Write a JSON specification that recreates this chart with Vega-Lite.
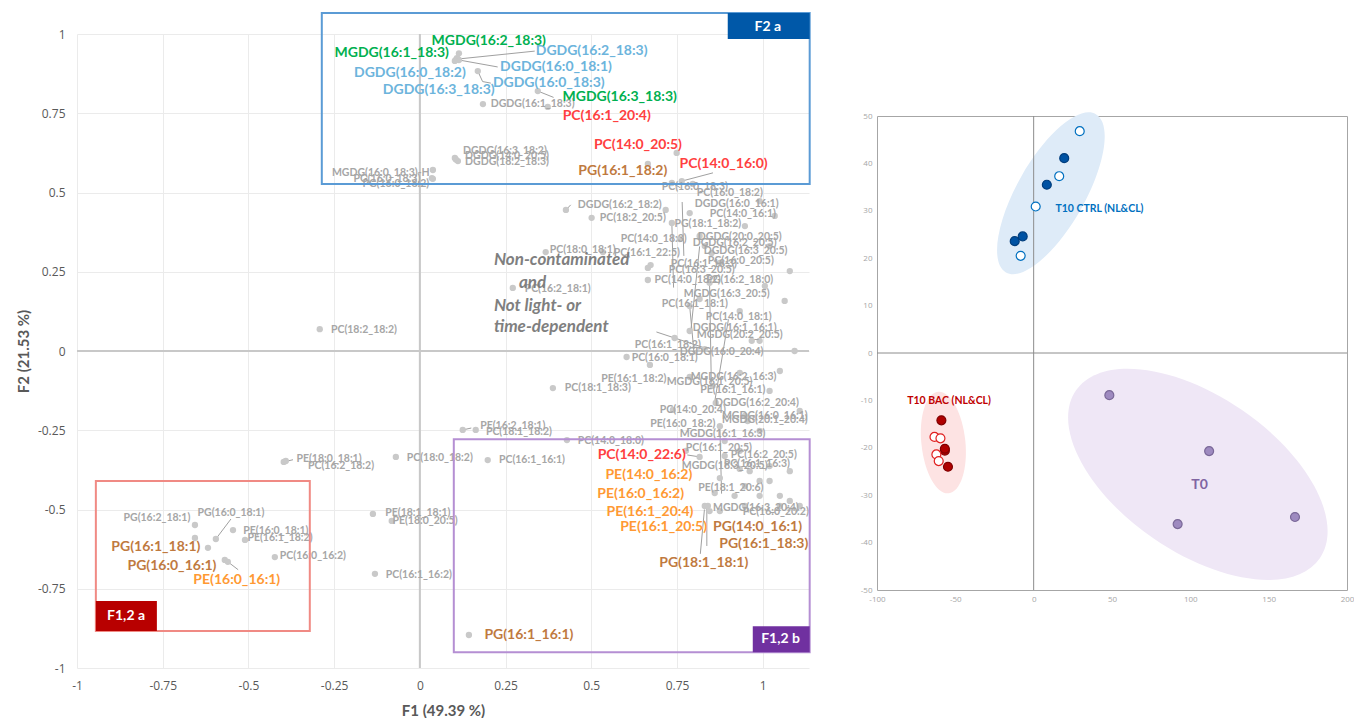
{
  "$schema": "https://vega.github.io/schema/vega-lite/v6.json",
  "padding": {"left": 16, "top": 12, "right": 0, "bottom": 0},
  "background": "white",
  "spacing": 48,
  "config": {"font": "Lato", "view": {"stroke": null}},
  "resolve": {"scale": {"color": "independent", "fill": "independent", "stroke": "independent"}},
  "datasets": {
    "loads": [
      {"x": 0.108, "y": 0.924, "t": "MGDG(16:1_18:3)", "lx": -0.082, "ly": 0.940, "g": "MGDG"},
      {"x": 0.114, "y": 0.939, "t": "MGDG(16:2_18:3)", "lx": 0.201, "ly": 0.978, "g": "MGDG"},
      {"x": 0.111, "y": 0.921, "t": "DGDG(16:2_18:3)", "lx": 0.501, "ly": 0.946, "g": "DGDG"},
      {"x": 0.114, "y": 0.918, "t": "DGDG(16:0_18:1)", "lx": 0.397, "ly": 0.896, "g": "DGDG"},
      {"x": 0.105, "y": 0.918, "t": "DGDG(16:0_18:2)", "lx": -0.029, "ly": 0.877, "g": "DGDG"},
      {"x": 0.169, "y": 0.883, "t": "DGDG(16:0_18:3)", "lx": 0.376, "ly": 0.845, "g": "DGDG"},
      {"x": 0.102, "y": 0.915, "t": "DGDG(16:3_18:3)", "lx": 0.055, "ly": 0.823, "g": "DGDG"},
      {"x": 0.344, "y": 0.820, "t": "MGDG(16:3_18:3)", "lx": 0.583, "ly": 0.801, "g": "MGDG"},
      {"x": 0.184, "y": 0.779, "t": "DGDG(16:1_18:3)", "lx": 0.329, "ly": 0.779, "g": "gray"},
      {"x": 0.373, "y": 0.770, "t": "PC(16:1_20:4)", "lx": 0.545, "ly": 0.741, "g": "PC"},
      {"x": 0.102, "y": 0.609, "t": "DGDG(16:3_18:2)", "lx": 0.248, "ly": 0.631, "g": "gray"},
      {"x": 0.111, "y": 0.599, "t": "DGDG(14:0_20:5)", "lx": 0.254, "ly": 0.615, "g": "gray"},
      {"x": 0.105, "y": 0.604, "t": "DGDG(18:2_18:3)", "lx": 0.254, "ly": 0.596, "g": "gray"},
      {"x": 0.038, "y": 0.571, "t": "MGDG(16:0_18:3)-H", "lx": -0.114, "ly": 0.562, "g": "gray"},
      {"x": 0.038, "y": 0.543, "t": "PG(16:0_18:2)", "lx": -0.070, "ly": 0.527, "g": "gray"},
      {"x": 0.035, "y": 0.545, "t": "PG(16:0_18:3)", "lx": -0.096, "ly": 0.543, "g": "gray"},
      {"x": 0.749, "y": 0.625, "t": "PC(14:0_20:5)", "lx": 0.636, "ly": 0.650, "g": "PC"},
      {"x": 0.665, "y": 0.590, "t": "PG(16:1_18:2)", "lx": 0.592, "ly": 0.568, "g": "PG"},
      {"x": 0.764, "y": 0.536, "t": "PC(14:0_16:0)", "lx": 0.886, "ly": 0.590, "g": "PC"},
      {"x": 0.735, "y": 0.530, "t": "PC(16:0_18:3)", "lx": 0.802, "ly": 0.517, "g": "gray"},
      {"x": 0.796, "y": 0.527, "t": "PC(16:0_18:2)", "lx": 0.904, "ly": 0.498, "g": "gray"},
      {"x": 0.426, "y": 0.445, "t": "DGDG(16:2_18:2)", "lx": 0.583, "ly": 0.461, "g": "gray"},
      {"x": 0.501, "y": 0.420, "t": "PC(18:2_20:5)", "lx": 0.621, "ly": 0.420, "g": "gray"},
      {"x": 0.717, "y": 0.445, "t": "DGDG(16:0_16:1)", "lx": 0.924, "ly": 0.464, "g": "gray"},
      {"x": 0.787, "y": 0.435, "t": "PC(14:0_16:1)", "lx": 0.942, "ly": 0.432, "g": "gray"},
      {"x": 0.735, "y": 0.404, "t": "PG(18:1_18:2)", "lx": 0.840, "ly": 0.401, "g": "gray"},
      {"x": 0.758, "y": 0.353, "t": "PC(14:0_18:3)", "lx": 0.682, "ly": 0.353, "g": "gray"},
      {"x": 0.816, "y": 0.363, "t": "DGDG(20:0_20:5)", "lx": 0.933, "ly": 0.360, "g": "gray"},
      {"x": 0.831, "y": 0.331, "t": "DGDG(16:2_20:5)", "lx": 0.918, "ly": 0.341, "g": "gray"},
      {"x": 0.851, "y": 0.309, "t": "DGDG(16:3_20:5)", "lx": 0.950, "ly": 0.315, "g": "gray"},
      {"x": 0.367, "y": 0.312, "t": "PC(18:0_18:1)", "lx": 0.475, "ly": 0.319, "g": "gray"},
      {"x": 0.534, "y": 0.312, "t": "PC(16:1_22:5)", "lx": 0.662, "ly": 0.309, "g": "gray"},
      {"x": 0.875, "y": 0.278, "t": "PC(16:0_20:5)", "lx": 0.936, "ly": 0.284, "g": "gray"},
      {"x": 0.673, "y": 0.271, "t": "PC(16:1_18:3)", "lx": 0.828, "ly": 0.274, "g": "gray"},
      {"x": 0.665, "y": 0.262, "t": "PC(16:3_20:5)", "lx": 0.822, "ly": 0.256, "g": "gray"},
      {"x": 0.665, "y": 0.224, "t": "PC(14:0_18:2)", "lx": 0.781, "ly": 0.224, "g": "gray"},
      {"x": 0.845, "y": 0.215, "t": "PG(16:2_18:0)", "lx": 0.933, "ly": 0.224, "g": "gray"},
      {"x": 0.271, "y": 0.199, "t": "PC(16:2_18:1)", "lx": 0.402, "ly": 0.196, "g": "gray"},
      {"x": 0.816, "y": 0.164, "t": "MGDG(16:3_20:5)", "lx": 0.895, "ly": 0.180, "g": "gray"},
      {"x": 0.787, "y": 0.142, "t": "PC(16:1_18:1)", "lx": 0.802, "ly": 0.148, "g": "gray"},
      {"x": 0.933, "y": 0.126, "t": "PC(14:0_18:1)", "lx": 0.930, "ly": 0.107, "g": "gray"},
      {"x": 0.787, "y": 0.063, "t": "DGDG(16:1_16:1)", "lx": 0.918, "ly": 0.073, "g": "gray"},
      {"x": 0.968, "y": 0.032, "t": "MGDG(20:2_20:5)", "lx": 0.933, "ly": 0.050, "g": "gray"},
      {"x": 0.743, "y": 0.041, "t": "PC(16:1_18:2)", "lx": 0.723, "ly": 0.019, "g": "gray"},
      {"x": 0.831, "y": 0.006, "t": "DGDG(16:0_20:4)", "lx": 0.880, "ly": -0.003, "g": "gray"},
      {"x": 0.603, "y": -0.019, "t": "PC(16:0_18:1)", "lx": 0.714, "ly": -0.022, "g": "gray"},
      {"x": 0.933, "y": -0.069, "t": "MGDG(16:2_16:3)", "lx": 0.915, "ly": -0.082, "g": "gray"},
      {"x": 0.671, "y": -0.044, "t": "PE(16:1_18:2)", "lx": 0.624, "ly": -0.088, "g": "gray"},
      {"x": 0.787, "y": -0.082, "t": "MGDG(16:1_20:5)", "lx": 0.845, "ly": -0.098, "g": "gray"},
      {"x": 0.854, "y": -0.110, "t": "PE(16:1_16:1)", "lx": 0.913, "ly": -0.123, "g": "gray"},
      {"x": 0.863, "y": -0.164, "t": "DGDG(16:2_20:4)", "lx": 0.983, "ly": -0.164, "g": "gray"},
      {"x": 0.388, "y": -0.117, "t": "PC(18:1_18:3)", "lx": 0.519, "ly": -0.117, "g": "gray"},
      {"x": 0.738, "y": -0.186, "t": "PC(14:0_20:4)", "lx": 0.796, "ly": -0.186, "g": "gray"},
      {"x": 0.948, "y": -0.205, "t": "MGDG(16:0_16:1)", "lx": 1.006, "ly": -0.205, "g": "gray"},
      {"x": 0.956, "y": -0.221, "t": "MGDG(20:1_20:4)", "lx": 1.006, "ly": -0.218, "g": "gray"},
      {"x": 0.875, "y": -0.237, "t": "PE(16:0_18:2)", "lx": 0.767, "ly": -0.230, "g": "gray"},
      {"x": 0.889, "y": -0.284, "t": "MGDG(16:1_16:3)", "lx": 0.883, "ly": -0.262, "g": "gray"},
      {"x": 0.125, "y": -0.249, "t": "PE(16:2_18:1)", "lx": 0.271, "ly": -0.237, "g": "gray"},
      {"x": 0.163, "y": -0.249, "t": "PC(18:1_18:2)", "lx": 0.289, "ly": -0.255, "g": "gray"},
      {"x": 0.429, "y": -0.281, "t": "PC(14:0_18:0)", "lx": 0.557, "ly": -0.284, "g": "gray"},
      {"x": -0.070, "y": -0.334, "t": "PC(18:0_18:2)", "lx": 0.058, "ly": -0.338, "g": "gray"},
      {"x": 0.198, "y": -0.344, "t": "PC(16:1_16:1)", "lx": 0.327, "ly": -0.344, "g": "gray"},
      {"x": -0.292, "y": 0.069, "t": "PC(18:2_18:2)", "lx": -0.163, "ly": 0.066, "g": "gray"},
      {"x": -0.397, "y": -0.350, "t": "PC(16:2_18:2)", "lx": -0.230, "ly": -0.363, "g": "gray"},
      {"x": -0.391, "y": -0.347, "t": "PE(18:0_18:1)", "lx": -0.265, "ly": -0.341, "g": "gray"},
      {"x": -0.137, "y": -0.514, "t": "PE(18:1_18:1)", "lx": -0.006, "ly": -0.511, "g": "gray"},
      {"x": -0.082, "y": -0.536, "t": "PE(18:0_20:5)", "lx": 0.015, "ly": -0.536, "g": "gray"},
      {"x": -0.131, "y": -0.703, "t": "PC(16:1_16:2)", "lx": -0.003, "ly": -0.707, "g": "gray"},
      {"x": -0.423, "y": -0.650, "t": "PC(16:0_16:2)", "lx": -0.312, "ly": -0.647, "g": "gray"},
      {"x": -0.656, "y": -0.549, "t": "PG(16:2_18:1)", "lx": -0.767, "ly": -0.527, "g": "gray"},
      {"x": -0.595, "y": -0.593, "t": "PG(16:0_18:1)", "lx": -0.551, "ly": -0.511, "g": "gray"},
      {"x": -0.545, "y": -0.565, "t": "PE(16:0_18:1)", "lx": -0.420, "ly": -0.568, "g": "gray"},
      {"x": -0.510, "y": -0.596, "t": "PE(16:1_18:2)", "lx": -0.408, "ly": -0.590, "g": "gray"},
      {"x": -0.656, "y": -0.590, "t": "", "lx": -0.656, "ly": -0.590, "g": "gray"},
      {"x": 0.776, "y": -0.315, "t": "PC(16:1_20:5)", "lx": 0.872, "ly": -0.306, "g": "gray"},
      {"x": 0.889, "y": -0.331, "t": "PC(16:2_20:5)", "lx": 1.003, "ly": -0.328, "g": "gray"},
      {"x": 0.933, "y": -0.372, "t": "MGDG(18:3_20:5)", "lx": 0.889, "ly": -0.363, "g": "gray"},
      {"x": 1.020, "y": -0.363, "t": "PC(16:1_16:3)", "lx": 0.983, "ly": -0.356, "g": "gray"},
      {"x": 0.991, "y": -0.410, "t": "PE(18:1_20:6)", "lx": 0.907, "ly": -0.432, "g": "gray"},
      {"x": 1.079, "y": -0.473, "t": "PC(16:0_20:2)", "lx": 1.038, "ly": -0.508, "g": "gray"},
      {"x": 1.050, "y": -0.457, "t": "MGDG(16:3_20:4)", "lx": 0.980, "ly": -0.495, "g": "gray"},
      {"x": -0.618, "y": -0.621, "t": "PG(16:1_18:1)", "lx": -0.770, "ly": -0.618, "g": "PG"},
      {"x": -0.569, "y": -0.659, "t": "PG(16:0_16:1)", "lx": -0.723, "ly": -0.678, "g": "PG"},
      {"x": -0.560, "y": -0.665, "t": "PE(16:0_16:1)", "lx": -0.534, "ly": -0.722, "g": "PE"},
      {"x": 0.816, "y": -0.334, "t": "PC(14:0_22:6)", "lx": 0.647, "ly": -0.328, "g": "PC"},
      {"x": 0.875, "y": -0.401, "t": "PE(14:0_16:2)", "lx": 0.668, "ly": -0.391, "g": "PE"},
      {"x": 0.860, "y": -0.448, "t": "PE(16:0_16:2)", "lx": 0.644, "ly": -0.451, "g": "PE"},
      {"x": 0.831, "y": -0.489, "t": "PE(16:1_20:4)", "lx": 0.671, "ly": -0.508, "g": "PE"},
      {"x": 0.875, "y": -0.505, "t": "PE(16:1_20:5)", "lx": 0.711, "ly": -0.555, "g": "PE"},
      {"x": 0.948, "y": -0.489, "t": "PG(14:0_16:1)", "lx": 0.985, "ly": -0.555, "g": "PG"},
      {"x": 0.840, "y": -0.489, "t": "PG(16:1_18:3)", "lx": 1.003, "ly": -0.609, "g": "PG"},
      {"x": 0.845, "y": -0.505, "t": "PG(18:1_18:1)", "lx": 0.828, "ly": -0.669, "g": "PG"},
      {"x": 0.143, "y": -0.896, "t": "PG(16:1_16:1)", "lx": 0.318, "ly": -0.896, "g": "PG"},
      {"x": 0.991, "y": 0.473, "t": "", "lx": 0.991, "ly": 0.473, "g": "gray"},
      {"x": 1.035, "y": 0.426, "t": "", "lx": 1.035, "ly": 0.426, "g": "gray"},
      {"x": 0.948, "y": 0.394, "t": "", "lx": 0.948, "ly": 0.394, "g": "gray"},
      {"x": 1.020, "y": 0.331, "t": "", "lx": 1.020, "ly": 0.331, "g": "gray"},
      {"x": 1.079, "y": 0.252, "t": "", "lx": 1.079, "ly": 0.252, "g": "gray"},
      {"x": 1.006, "y": 0.205, "t": "", "lx": 1.006, "ly": 0.205, "g": "gray"},
      {"x": 1.064, "y": 0.158, "t": "", "lx": 1.064, "ly": 0.158, "g": "gray"},
      {"x": 0.991, "y": 0.032, "t": "", "lx": 0.991, "ly": 0.032, "g": "gray"},
      {"x": 1.093, "y": 0.000, "t": "", "lx": 1.093, "ly": 0.000, "g": "gray"},
      {"x": 1.050, "y": -0.063, "t": "", "lx": 1.050, "ly": -0.063, "g": "gray"},
      {"x": 1.020, "y": -0.126, "t": "", "lx": 1.020, "ly": -0.126, "g": "gray"},
      {"x": 1.108, "y": -0.189, "t": "", "lx": 1.108, "ly": -0.189, "g": "gray"},
      {"x": 0.991, "y": -0.252, "t": "", "lx": 0.991, "ly": -0.252, "g": "gray"},
      {"x": 0.933, "y": -0.315, "t": "", "lx": 0.933, "ly": -0.315, "g": "gray"},
      {"x": 0.962, "y": -0.379, "t": "", "lx": 0.962, "ly": -0.379, "g": "gray"},
      {"x": 1.020, "y": -0.410, "t": "", "lx": 1.020, "ly": -0.410, "g": "gray"},
      {"x": 1.079, "y": -0.379, "t": "", "lx": 1.079, "ly": -0.379, "g": "gray"},
      {"x": 0.991, "y": -0.457, "t": "", "lx": 0.991, "ly": -0.457, "g": "gray"},
      {"x": 1.050, "y": -0.489, "t": "", "lx": 1.050, "ly": -0.489, "g": "gray"},
      {"x": 1.108, "y": -0.489, "t": "", "lx": 1.108, "ly": -0.489, "g": "gray"},
      {"x": 0.918, "y": -0.457, "t": "", "lx": 0.918, "ly": -0.457, "g": "gray"},
      {"x": 0.948, "y": -0.426, "t": "", "lx": 0.948, "ly": -0.426, "g": "gray"}
    ],
    "leads": [
      {"x": 0.111, "y": 0.921, "x2": 0.335, "y2": 0.946},
      {"x": 0.114, "y": 0.918, "x2": 0.227, "y2": 0.896},
      {"x": 0.169, "y": 0.883, "x2": 0.183, "y2": 0.850},
      {"x": 0.183, "y": 0.850, "x2": 0.207, "y2": 0.845},
      {"x": 0.344, "y": 0.820, "x2": 0.390, "y2": 0.800},
      {"x": 0.764, "y": 0.536, "x2": 0.855, "y2": 0.562},
      {"x": 0.735, "y": 0.530, "x2": 0.760, "y2": 0.515},
      {"x": 0.426, "y": 0.445, "x2": 0.440, "y2": 0.461},
      {"x": -0.595, "y": -0.593, "x2": -0.551, "y2": -0.530},
      {"x": -0.560, "y": -0.665, "x2": -0.530, "y2": -0.690},
      {"x": 0.780, "y": -0.328, "x2": 0.816, "y2": -0.334},
      {"x": 0.837, "y": -0.490, "x2": 0.837, "y2": -0.615},
      {"x": 0.830, "y": -0.500, "x2": 0.818, "y2": -0.640},
      {"x": -0.397, "y": -0.350, "x2": -0.370, "y2": -0.343},
      {"x": 0.125, "y": -0.249, "x2": 0.150, "y2": -0.243},
      {"x": 0.735, "y": 0.404, "x2": 0.740, "y2": 0.200},
      {"x": 0.787, "y": 0.142, "x2": 0.800, "y2": -0.010},
      {"x": 0.845, "y": 0.215, "x2": 0.850, "y2": -0.100},
      {"x": 0.875, "y": -0.237, "x2": 0.880, "y2": -0.450},
      {"x": 0.816, "y": 0.330, "x2": 0.790, "y2": 0.060},
      {"x": 0.765, "y": 0.470, "x2": 0.770, "y2": 0.300},
      {"x": 0.900, "y": 0.100, "x2": 0.860, "y2": -0.160},
      {"x": 0.690, "y": 0.060, "x2": 0.830, "y2": 0.010}
    ],
    "boxes": [
      {"x": -0.286, "x2": 1.137, "y": 1.066, "y2": 0.527, "b": "F2 a"},
      {"x": -0.945, "x2": -0.321, "y": -0.410, "y2": -0.883, "b": "F1,2 a"},
      {"x": 0.099, "x2": 1.137, "y": -0.278, "y2": -0.950, "b": "F1,2 b"}
    ],
    "tags": [
      {"x": 0.898, "x2": 1.137, "y": 1.066, "y2": 0.984, "cx": 1.015, "cy": 1.022, "b": "F2 a"},
      {"x": -0.945, "x2": -0.767, "y": -0.789, "y2": -0.883, "cx": -0.857, "cy": -0.836, "b": "F1,2 a"},
      {"x": 0.971, "x2": 1.137, "y": -0.868, "y2": -0.950, "cx": 1.052, "cy": -0.909, "b": "F1,2 b"}
    ],
    "notes": [
      {"x": 0.216, "y": 0.287, "t": "Non-contaminated"},
      {"x": 0.289, "y": 0.215, "t": "and"},
      {"x": 0.216, "y": 0.142, "t": "Not light- or"},
      {"x": 0.216, "y": 0.076, "t": "time-dependent"}
    ],
    "scores": [
      {"x": 29.4, "y": 46.8, "s": "CTRL-o"},
      {"x": 19.5, "y": 41.1, "s": "CTRL-f"},
      {"x": 16.3, "y": 37.3, "s": "CTRL-o"},
      {"x": 8.4, "y": 35.5, "s": "CTRL-f"},
      {"x": 1.3, "y": 30.9, "s": "CTRL-o"},
      {"x": -7.0, "y": 24.6, "s": "CTRL-f"},
      {"x": -12.1, "y": 23.6, "s": "CTRL-f"},
      {"x": -8.3, "y": 20.5, "s": "CTRL-o"},
      {"x": -58.9, "y": -14.2, "s": "BAC-f"},
      {"x": -56.7, "y": -20.6, "s": "BAC-f"},
      {"x": -63.3, "y": -17.7, "s": "BAC-o"},
      {"x": -59.5, "y": -18.0, "s": "BAC-o"},
      {"x": -56.7, "y": -20.2, "s": "BAC-f"},
      {"x": -62.1, "y": -21.4, "s": "BAC-o"},
      {"x": -60.6, "y": -22.8, "s": "BAC-o"},
      {"x": -54.7, "y": -24.0, "s": "BAC-f"},
      {"x": 48.3, "y": -8.9, "s": "T0"},
      {"x": 112.0, "y": -20.7, "s": "T0"},
      {"x": 91.9, "y": -36.1, "s": "T0"},
      {"x": 166.8, "y": -34.6, "s": "T0"}
    ],
    "ell": [
      {"x": 11.0, "y": 33.7, "e": "CTRL"},
      {"x": -57.6, "y": -18.9, "e": "BAC"},
      {"x": 104.8, "y": -25.6, "e": "T0"}
    ],
    "slabels": [
      {"x": 42.0, "y": 30.3, "t": "T10 CTRL (NL&CL)", "g": "CTRL"},
      {"x": -54.0, "y": -10.1, "t": "T10 BAC (NL&CL)", "g": "BAC"},
      {"x": 105.9, "y": -27.9, "t": "T0", "g": "T0"}
    ],
    "blank": [{"t": ""}]
  },
  "hconcat": [
    {
      "width": 732,
      "height": 634,
      "layer": [
        {
          "data": {"name": "loads"},
          "mark": {"type": "point", "filled": true, "opacity": 0},
          "encoding": {
            "x": {"field": "x", "type": "quantitative", "title": "F1 (49.39 %)", "scale": {"domain": [-1, 1.135], "nice": false, "zero": false},
              "axis": {"values": [-1, -0.75, -0.5, -0.25, 0, 0.25, 0.5, 0.75, 1], "labelExpr": "datum.value + ''", "labelFlush": false, "grid": true, "gridColor": "#EBEBEB", "domain": false, "ticks": false, "labelPadding": 12, "labelFont": "Open Sans", "labelFontSize": 12, "labelColor": "#595959", "titleFontSize": 15, "titleColor": "#595959", "titleFontWeight": "bold", "titlePadding": 12}},
            "y": {"field": "y", "type": "quantitative", "title": "F2 (21.53 %)", "scale": {"domain": [-1, 1], "nice": false, "zero": false},
              "axis": {"values": [-1, -0.75, -0.5, -0.25, 0, 0.25, 0.5, 0.75, 1], "labelExpr": "datum.value + ''", "labelFlush": false, "grid": true, "gridColor": "#EBEBEB", "domain": false, "ticks": false, "labelPadding": 12, "labelFont": "Open Sans", "labelFontSize": 12, "labelColor": "#595959", "titleFontSize": 15, "titleColor": "#595959", "titleFontWeight": "bold", "titlePadding": 6}}
          }
        },
        {
          "data": {"values": [{"v": 0}]},
          "mark": {"type": "rule", "color": "#C8C8C8", "strokeWidth": 2},
          "encoding": {"x": {"field": "v", "type": "quantitative", "title": "F1 (49.39 %)", "scale": {"domain": [-1, 1.135], "nice": false, "zero": false}}}
        },
        {
          "data": {"values": [{"v": 0}]},
          "mark": {"type": "rule", "color": "#C8C8C8", "strokeWidth": 2},
          "encoding": {"y": {"field": "v", "type": "quantitative", "title": "F2 (21.53 %)", "scale": {"domain": [-1, 1], "nice": false, "zero": false}}}
        },
        {
          "data": {"name": "leads"},
          "mark": {"type": "rule", "color": "#A0A0A0", "strokeWidth": 1},
          "encoding": {
            "x": {"field": "x", "type": "quantitative", "title": "F1 (49.39 %)", "scale": {"domain": [-1, 1.135], "nice": false, "zero": false}},
            "y": {"field": "y", "type": "quantitative", "title": "F2 (21.53 %)", "scale": {"domain": [-1, 1], "nice": false, "zero": false}},
            "x2": {"field": "x2"},
            "y2": {"field": "y2"}
          }
        },
        {
          "data": {"name": "loads"},
          "mark": {"type": "point", "filled": true, "opacity": 1, "color": "#C9C9C9", "size": 40},
          "encoding": {
            "x": {"field": "x", "type": "quantitative", "title": "F1 (49.39 %)", "scale": {"domain": [-1, 1.135], "nice": false, "zero": false}},
            "y": {"field": "y", "type": "quantitative", "title": "F2 (21.53 %)", "scale": {"domain": [-1, 1], "nice": false, "zero": false}}
          }
        },
        {
          "data": {"name": "loads"},
          "transform": [{"filter": "datum.g == 'gray'"}],
          "mark": {"type": "text", "fontSize": 10.5, "fontWeight": "bold", "align": "center", "baseline": "middle"},
          "encoding": {
            "x": {"field": "lx", "type": "quantitative", "title": "F1 (49.39 %)", "scale": {"domain": [-1, 1.135], "nice": false, "zero": false}},
            "y": {"field": "ly", "type": "quantitative", "title": "F2 (21.53 %)", "scale": {"domain": [-1, 1], "nice": false, "zero": false}},
            "text": {"field": "t"},
            "color": {"field": "g", "type": "nominal", "scale": {"domain": ["gray", "MGDG", "DGDG", "PC", "PG", "PE"], "range": ["#A6A6A6", "#00B050", "#6CB4DC", "#FF4040", "#BF7A3F", "#FF9933"]}, "legend": null}
          }
        },
        {
          "data": {"name": "loads"},
          "transform": [{"filter": "datum.g != 'gray'"}],
          "mark": {"type": "text", "fontSize": 14, "fontWeight": "bold", "align": "center", "baseline": "middle"},
          "encoding": {
            "x": {"field": "lx", "type": "quantitative", "title": "F1 (49.39 %)", "scale": {"domain": [-1, 1.135], "nice": false, "zero": false}},
            "y": {"field": "ly", "type": "quantitative", "title": "F2 (21.53 %)", "scale": {"domain": [-1, 1], "nice": false, "zero": false}},
            "text": {"field": "t"},
            "color": {"field": "g", "type": "nominal", "scale": {"domain": ["gray", "MGDG", "DGDG", "PC", "PG", "PE"], "range": ["#A6A6A6", "#00B050", "#6CB4DC", "#FF4040", "#BF7A3F", "#FF9933"]}, "legend": null}
          }
        },
        {
          "data": {"name": "notes"},
          "mark": {"type": "text", "fontSize": 17, "fontWeight": "bold", "fontStyle": "italic", "align": "left", "baseline": "middle", "color": "#7F7F7F"},
          "encoding": {
            "x": {"field": "x", "type": "quantitative", "title": "F1 (49.39 %)", "scale": {"domain": [-1, 1.135], "nice": false, "zero": false}},
            "y": {"field": "y", "type": "quantitative", "title": "F2 (21.53 %)", "scale": {"domain": [-1, 1], "nice": false, "zero": false}},
            "text": {"field": "t"}
          }
        },
        {
          "data": {"name": "boxes"},
          "mark": {"type": "rect", "filled": false, "strokeWidth": 2},
          "encoding": {
            "x": {"field": "x", "type": "quantitative", "title": "F1 (49.39 %)", "scale": {"domain": [-1, 1.135], "nice": false, "zero": false}},
            "y": {"field": "y", "type": "quantitative", "title": "F2 (21.53 %)", "scale": {"domain": [-1, 1], "nice": false, "zero": false}},
            "x2": {"field": "x2"},
            "y2": {"field": "y2"},
            "stroke": {"field": "b", "type": "nominal", "scale": {"domain": ["F2 a", "F1,2 a", "F1,2 b"], "range": ["#5B9BD5", "#F08A84", "#B58FD3"]}, "legend": null}
          }
        },
        {
          "data": {"name": "tags"},
          "mark": {"type": "rect", "opacity": 1},
          "encoding": {
            "x": {"field": "x", "type": "quantitative", "title": "F1 (49.39 %)", "scale": {"domain": [-1, 1.135], "nice": false, "zero": false}},
            "y": {"field": "y", "type": "quantitative", "title": "F2 (21.53 %)", "scale": {"domain": [-1, 1], "nice": false, "zero": false}},
            "x2": {"field": "x2"},
            "y2": {"field": "y2"},
            "fill": {"field": "b", "type": "nominal", "scale": {"domain": ["F2 a", "F1,2 a", "F1,2 b"], "range": ["#0058A8", "#B80000", "#7030A0"]}, "legend": null}
          }
        },
        {
          "data": {"name": "tags"},
          "mark": {"type": "text", "fontSize": 14, "fontWeight": "bold", "color": "white", "align": "center", "baseline": "middle"},
          "encoding": {
            "x": {"field": "cx", "type": "quantitative", "title": "F1 (49.39 %)", "scale": {"domain": [-1, 1.135], "nice": false, "zero": false}},
            "y": {"field": "cy", "type": "quantitative", "title": "F2 (21.53 %)", "scale": {"domain": [-1, 1], "nice": false, "zero": false}},
            "text": {"field": "b"}
          }
        }
      ]
    },
    {
      "spacing": 20,
      "vconcat": [
        {
          "width": 470,
          "height": 57,
          "data": {"name": "blank"},
          "mark": {"type": "text"},
          "encoding": {"text": {"field": "t"}}
        },
        {
          "width": 470,
          "height": 474,
          "view": {"stroke": "#A6A6A6"},
          "layer": [
            {
              "data": {"name": "ell"},
              "transform": [{"filter": "datum.e == 'CTRL'"}],
              "mark": {"type": "point", "filled": true, "opacity": 1, "color": "#DEEBF8", "strokeWidth": 0, "size": 33124, "angle": 299.6,
                "shape": "M -1 0 C -1 -0.2066 -0.5523 -0.374 0 -0.374 C 0.5523 -0.374 1 -0.2066 1 0 C 1 0.2066 0.5523 0.374 0 0.374 C -0.5523 0.374 -1 0.2066 -1 0 Z"},
              "encoding": {
                "x": {"field": "x", "type": "quantitative", "title": null, "scale": {"domain": [-100, 200], "nice": false, "zero": false},
                  "axis": {"values": [-100, -50, 0, 50, 100, 150, 200], "labelExpr": "datum.value + ''", "labelFlush": false, "grid": false, "domain": false, "ticks": false, "labelPadding": 5, "labelFont": "Open Sans", "labelFontSize": 8, "labelColor": "#A6A6A6"}},
                "y": {"field": "y", "type": "quantitative", "title": null, "scale": {"domain": [-50, 50], "nice": false, "zero": false},
                  "axis": {"values": [-50, -40, -30, -20, -10, 0, 10, 20, 30, 40, 50], "labelExpr": "datum.value + ''", "labelFlush": false, "grid": false, "domain": false, "ticks": false, "labelPadding": 5, "labelFont": "Open Sans", "labelFontSize": 8, "labelColor": "#A6A6A6"}}
              }
            },
            {
              "data": {"name": "ell"},
              "transform": [{"filter": "datum.e == 'BAC'"}],
              "mark": {"type": "point", "filled": true, "opacity": 1, "color": "#FDE3E3", "strokeWidth": 0, "size": 10404, "angle": 84,
                "shape": "M -1 0 C -1 -0.238 -0.5523 -0.431 0 -0.431 C 0.5523 -0.431 1 -0.238 1 0 C 1 0.238 0.5523 0.431 0 0.431 C -0.5523 0.431 -1 0.238 -1 0 Z"},
              "encoding": {
                "x": {"field": "x", "type": "quantitative", "title": null, "scale": {"domain": [-100, 200], "nice": false, "zero": false}},
                "y": {"field": "y", "type": "quantitative", "title": null, "scale": {"domain": [-50, 50], "nice": false, "zero": false}}
              }
            },
            {
              "data": {"name": "ell"},
              "transform": [{"filter": "datum.e == 'T0'"}],
              "mark": {"type": "point", "filled": true, "opacity": 1, "color": "#EFE7F6", "strokeWidth": 0, "size": 87616, "angle": 34.5,
                "shape": "M -1 0 C -1 -0.291 -0.5523 -0.527 0 -0.527 C 0.5523 -0.527 1 -0.291 1 0 C 1 0.291 0.5523 0.527 0 0.527 C -0.5523 0.527 -1 0.291 -1 0 Z"},
              "encoding": {
                "x": {"field": "x", "type": "quantitative", "title": null, "scale": {"domain": [-100, 200], "nice": false, "zero": false}},
                "y": {"field": "y", "type": "quantitative", "title": null, "scale": {"domain": [-50, 50], "nice": false, "zero": false}}
              }
            },
            {
              "data": {"values": [{"v": 0}]},
              "mark": {"type": "rule", "color": "#8C8C8C", "strokeWidth": 1},
              "encoding": {"x": {"field": "v", "type": "quantitative", "title": null, "scale": {"domain": [-100, 200], "nice": false, "zero": false}}}
            },
            {
              "data": {"values": [{"v": 0}]},
              "mark": {"type": "rule", "color": "#8C8C8C", "strokeWidth": 1},
              "encoding": {"y": {"field": "v", "type": "quantitative", "title": null, "scale": {"domain": [-50, 50], "nice": false, "zero": false}}}
            },
            {
              "data": {"name": "scores"},
              "mark": {"type": "point", "filled": true, "opacity": 1, "size": 80, "strokeWidth": 1.2},
              "encoding": {
                "x": {"field": "x", "type": "quantitative", "title": null, "scale": {"domain": [-100, 200], "nice": false, "zero": false}},
                "y": {"field": "y", "type": "quantitative", "title": null, "scale": {"domain": [-50, 50], "nice": false, "zero": false}},
                "fill": {"field": "s", "type": "nominal", "scale": {"domain": ["CTRL-f", "CTRL-o", "BAC-f", "BAC-o", "T0"], "range": ["#0052A3", "#FFFFFF", "#B00000", "#FFFFFF", "#9E8AC0"]}, "legend": null},
                "stroke": {"field": "s", "type": "nominal", "scale": {"domain": ["CTRL-f", "CTRL-o", "BAC-f", "BAC-o", "T0"], "range": ["#003E7E", "#0070C0", "#800000", "#E02020", "#7A6898"]}, "legend": null}
              }
            },
            {
              "data": {"name": "slabels"},
              "transform": [{"filter": "datum.g != 'T0'"}],
              "mark": {"type": "text", "fontSize": 10.5, "fontWeight": "bold", "align": "center", "baseline": "middle"},
              "encoding": {
                "x": {"field": "x", "type": "quantitative", "title": null, "scale": {"domain": [-100, 200], "nice": false, "zero": false}},
                "y": {"field": "y", "type": "quantitative", "title": null, "scale": {"domain": [-50, 50], "nice": false, "zero": false}},
                "text": {"field": "t"},
                "color": {"field": "g", "type": "nominal", "scale": {"domain": ["CTRL", "BAC", "T0"], "range": ["#0070C0", "#C00000", "#8064A2"]}, "legend": null}
              }
            },
            {
              "data": {"name": "slabels"},
              "transform": [{"filter": "datum.g == 'T0'"}],
              "mark": {"type": "text", "fontSize": 14, "fontWeight": "bold", "align": "center", "baseline": "middle"},
              "encoding": {
                "x": {"field": "x", "type": "quantitative", "title": null, "scale": {"domain": [-100, 200], "nice": false, "zero": false}},
                "y": {"field": "y", "type": "quantitative", "title": null, "scale": {"domain": [-50, 50], "nice": false, "zero": false}},
                "text": {"field": "t"},
                "color": {"field": "g", "type": "nominal", "scale": {"domain": ["CTRL", "BAC", "T0"], "range": ["#0070C0", "#C00000", "#8064A2"]}, "legend": null}
              }
            }
          ]
        }
      ]
    }
  ]
}
